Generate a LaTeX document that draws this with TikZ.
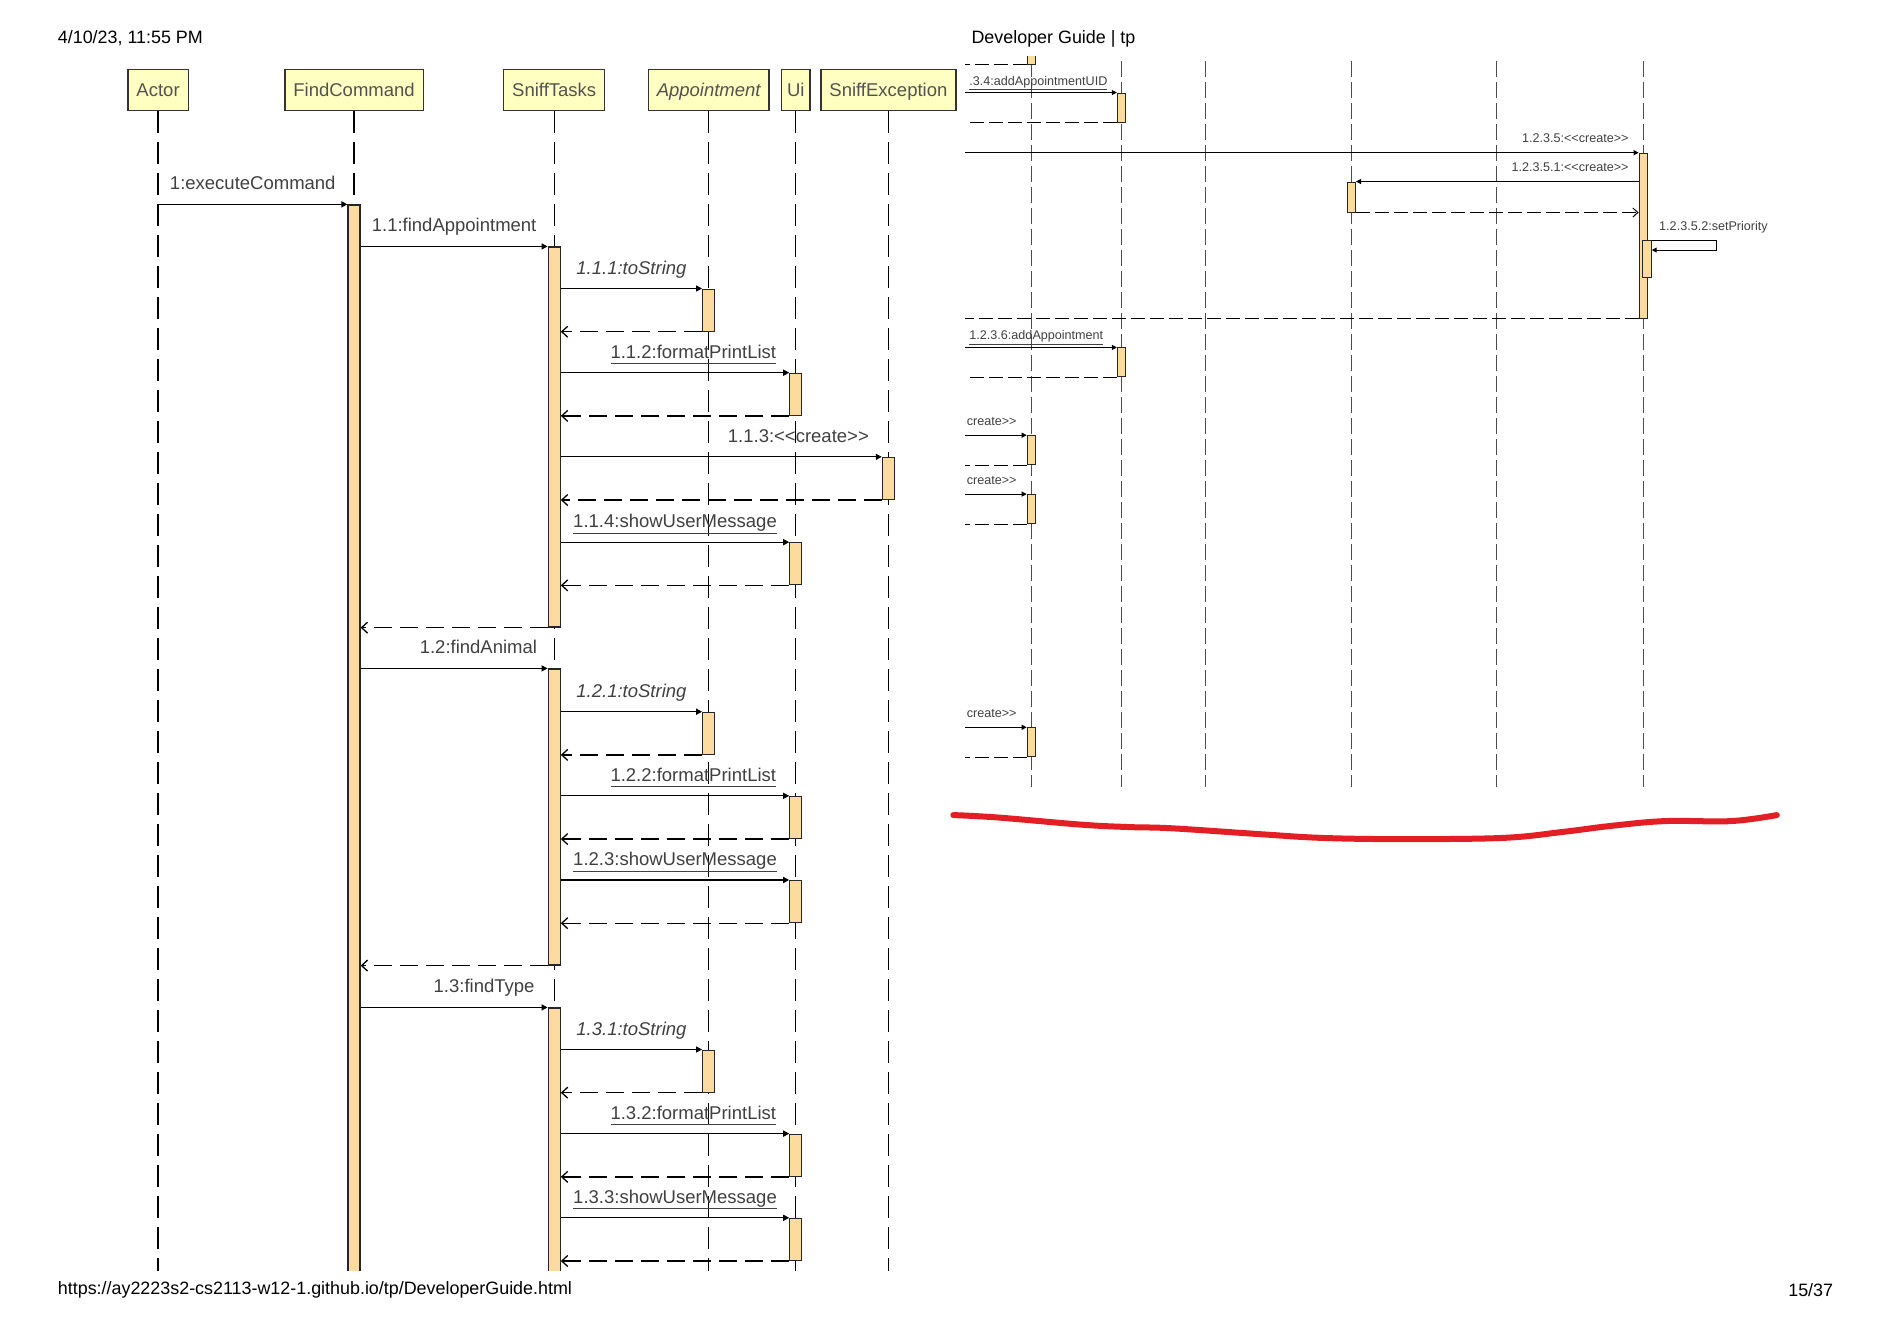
\documentclass[tikz,border=0pt]{standalone}
\usepackage{fontspec}
\setmainfont{Liberation Sans}
\usepackage{xcolor}
\usepackage{tikz}
\usetikzlibrary{arrows.meta}

\definecolor{headfill}{HTML}{FFFFC2}
\definecolor{barfill}{HTML}{FDDB9E}
\definecolor{penred}{HTML}{E31E24}
\newcommand{\dlt}{<\kern0pt<}
\newcommand{\dgt}{>\kern0pt>}
\newcommand{\ulbl}[1]{\underline{#1\vphantom{g}}}

\begin{document}
\begin{tikzpicture}[x=1.2022pt, y=-1.2022pt,
  head/.style={rectangle, draw=black!80, fill=headfill, line width=1.3pt, minimum height=41pt, inner xsep=8.5pt, text height=17pt, text depth=4pt, text=black!68, font=\fontsize{18.5pt}{20pt}\selectfont},
  bar/.style={rectangle, draw=black!85, fill=barfill, line width=1.2pt, minimum width=12pt, inner sep=0pt, anchor=north},
  rbar/.style={bar, minimum width=8.5pt, line width=1pt},
  life/.style={line width=1.3pt, dash pattern=on 22pt off 9pt},
  rlife/.style={line width=1pt, black!70, dash pattern=on 16pt off 5pt},
  msg/.style={line width=1.3pt, -{Triangle[length=6pt,width=6pt]}},
  ret/.style={line width=1.3pt, dash pattern=on 18pt off 8pt, -{Straight Barb[length=6pt,width=11pt]}},
  rmsg/.style={line width=1pt, -{Triangle[length=5pt,width=5pt]}},
  rret/.style={line width=1pt, dash pattern=on 14pt off 5pt, -{Straight Barb[length=5pt,width=9pt]}},
  lbl/.style={anchor=base, yshift=14.5pt, inner sep=0pt, text=black!75, font=\fontsize{18.5pt}{20pt}\selectfont},
  rlbl/.style={inner sep=0pt, text=black!75, font=\fontsize{12.6pt}{14pt}\selectfont},
  page/.style={inner sep=0pt, font=\fontsize{17.9pt}{20pt}\selectfont}]
\useasboundingbox (0,0) rectangle (1568,1098);

% page header and footer
\node (date) [page, anchor=west] at (48,32) {4/10/23, 11:55 PM};
\node (title) [page, anchor=west] at (808,32) {Developer Guide | tp};
\node (url) [page, anchor=west] at (48,1073) {https://ay2223s2-cs2113-w12-1.github.io/tp/DeveloperGuide.html};
\node (pageno) [page, anchor=east] at (1525,1073) {15/37};

% left column: find sequence
\begin{scope}
\clip (0,40) rectangle (800,1057);
\node (actor) [head] at (131.5,75) {Actor};
\node (find) [head] at (294.5,75) {FindCommand};
\node (tasks) [head] at (461,75) {SniffTasks};
\node (appt) [head] at (589.5,75) {\itshape Appointment};
\node (ui) [head, inner xsep=5.5pt] at (662,75) {Ui};
\node (except) [head] at (739,75) {SniffException};

\foreach \obj in {actor,find,tasks,appt,ui,except}
  \draw[life] (\obj.south) -- (\obj.south |- 0,1070);

\node (fbar) [bar, minimum height=1080pt] at (find.south |- 0,170) {};
\node (t1) [bar, minimum height=380pt] at (tasks.south |- 0,205) {};
\node (a1) [bar, minimum height=42pt] at (appt.south |- 0,240) {};
\node (u1) [bar, minimum height=42pt] at (ui.south |- 0,310) {};
\node (e1) [bar, minimum height=42pt] at (except.south |- 0,380) {};
\node (u2) [bar, minimum height=42pt] at (ui.south |- 0,451) {};
\node (t2) [bar, minimum height=296pt] at (tasks.south |- 0,556) {};
\node (a2) [bar, minimum height=42pt] at (appt.south |- 0,592) {};
\node (u3) [bar, minimum height=42pt] at (ui.south |- 0,662) {};
\node (u4) [bar, minimum height=42pt] at (ui.south |- 0,732) {};
\node (t3) [bar, minimum height=300pt] at (tasks.south |- 0,838) {};
\node (a3) [bar, minimum height=42pt] at (appt.south |- 0,873) {};
\node (u5) [bar, minimum height=42pt] at (ui.south |- 0,943) {};
\node (u6) [bar, minimum height=42pt] at (ui.south |- 0,1013) {};

\draw[msg] (actor.south |- fbar.north) -- (fbar.north west) node[lbl, midway] {1:executeCommand};

\draw[msg] (fbar.east |- t1.north) -- (t1.north west) node[lbl, midway] {1.1:findAppointment};
\draw[msg] (t1.east |- a1.north) -- (a1.north west) node[lbl, midway] {\itshape 1.1.1:toString};
\draw[ret] (a1.south west) -- (t1.east |- a1.south);
\draw[msg] (t1.east |- u1.north) -- (u1.north west) node[lbl, pos=0.58] {\ulbl{1.1.2:formatPrintList}};
\draw[ret] (u1.south west) -- (t1.east |- u1.south);
\draw[msg] (t1.east |- e1.north) -- (e1.north west) node[lbl, pos=0.74] {1.1.3:\dlt create\dgt};
\draw[ret] (e1.south west) -- (t1.east |- e1.south);
\draw[msg] (t1.east |- u2.north) -- (u2.north west) node[lbl, midway] {\ulbl{1.1.4:showUserMessage}};
\draw[ret] (u2.south west) -- (t1.east |- u2.south);
\draw[ret] (t1.south west) -- (fbar.east |- t1.south);

\draw[msg] (fbar.east |- t2.north) -- (t2.north west) node[lbl, pos=0.63] {1.2:findAnimal};
\draw[msg] (t2.east |- a2.north) -- (a2.north west) node[lbl, midway] {\itshape 1.2.1:toString};
\draw[ret] (a2.south west) -- (t2.east |- a2.south);
\draw[msg] (t2.east |- u3.north) -- (u3.north west) node[lbl, pos=0.58] {\ulbl{1.2.2:formatPrintList}};
\draw[ret] (u3.south west) -- (t2.east |- u3.south);
\draw[msg] (t2.east |- u4.north) -- (u4.north west) node[lbl, midway] {\ulbl{1.2.3:showUserMessage}};
\draw[ret] (u4.south west) -- (t2.east |- u4.south);
\draw[ret] (t2.south west) -- (fbar.east |- t2.south);

\draw[msg] (fbar.east |- t3.north) -- (t3.north west) node[lbl, pos=0.66] {1.3:findType};
\draw[msg] (t3.east |- a3.north) -- (a3.north west) node[lbl, midway] {\itshape 1.3.1:toString};
\draw[ret] (a3.south west) -- (t3.east |- a3.south);
\draw[msg] (t3.east |- u5.north) -- (u5.north west) node[lbl, pos=0.58] {\ulbl{1.3.2:formatPrintList}};
\draw[ret] (u5.south west) -- (t3.east |- u5.south);
\draw[msg] (t3.east |- u6.north) -- (u6.north west) node[lbl, midway] {\ulbl{1.3.3:showUserMessage}};
\draw[ret] (u6.south west) -- (t3.east |- u6.south);
\end{scope}

% right column: cut-off part of the add sequence
\begin{scope}
\clip (800,47) rectangle (1568,1098);
\foreach \lx in {858,933,1003,1124,1245,1367}
  \draw[rlife] (\lx,51) -- (\lx,655);
\coordinate (edge) at (803,0);

\node (r0) [rbar, minimum height=12pt] at (858,43) {};
\node (uid) [rbar, minimum height=29pt] at (933,77) {};
\node (pri) [rbar, minimum height=165pt] at (1367,127) {};
\node (mk) [rbar, minimum height=30pt] at (1124,151) {};
\node (setp) [rbar, minimum height=37pt] at (1370,200) {};
\node (addp) [rbar, minimum height=29pt] at (933,289) {};
\node (c1) [rbar, minimum height=29pt] at (858,362) {};
\node (c2) [rbar, minimum height=29pt] at (858,411) {};
\node (c3) [rbar, minimum height=29pt] at (858,605) {};

\draw[rret, -] (r0.south west) -- (edge |- r0.south);
\draw[rmsg] (edge |- uid.north) -- (uid.north west) node[rlbl, at start, anchor=base west, xshift=3.6pt, yshift=7.5pt] {\ulbl{.3.4:addAppointmentUID}};
\draw[rret, -] (uid.south west) -- (edge |- uid.south);

\draw[rmsg] (edge |- pri.north) -- (pri.north west) node[rlbl, at end, anchor=base east, xshift=-9.6pt, yshift=10pt] {1.2.3.5:\dlt create\dgt};
\draw[rmsg] (pri.west |- mk.north) -- (mk.north east) node[rlbl, at start, anchor=base east, xshift=-9.6pt, yshift=10pt] {1.2.3.5.1:\dlt create\dgt};
\draw[rret] (mk.south east) -- (pri.west |- mk.south);
\draw[rmsg] (setp.north east) node[rlbl, anchor=base west, xshift=7pt, yshift=10pt] {1.2.3.5.2:setPriority} -- ++(54,0) |- ([yshift=-9.6pt]setp.north east);
\draw[rret, -] (pri.south west) -- (edge |- pri.south);

\draw[rmsg] (edge |- addp.north) -- (addp.north west) node[rlbl, at start, anchor=base west, xshift=3.6pt, yshift=7.5pt] {\ulbl{1.2.3.6:addAppointment}};
\draw[rret, -] (addp.south west) -- (edge |- addp.south);

\draw[rmsg] (edge |- c1.north) -- (c1.north west) node[rlbl, at start, anchor=base west, xshift=1pt, yshift=10pt] {create\dgt};
\draw[rret, -] (c1.south west) -- (edge |- c1.south);
\draw[rmsg] (edge |- c2.north) -- (c2.north west) node[rlbl, at start, anchor=base west, xshift=1pt, yshift=10pt] {create\dgt};
\draw[rret, -] (c2.south west) -- (edge |- c2.south);
\draw[rmsg] (edge |- c3.north) -- (c3.north west) node[rlbl, at start, anchor=base west, xshift=1pt, yshift=10pt] {create\dgt};
\draw[rret, -] (c3.south west) -- (edge |- c3.south);
\end{scope}

% red pen stroke
\draw[penred, line width=6pt, line cap=round] plot[smooth, tension=0.6] coordinates {(793,678) (830,680) (900,686) (940,688) (975,689) (1050,694) (1100,697) (1165,698) (1250,697) (1300,692) (1340,687) (1385,683) (1440,683) (1478,678)};
\end{tikzpicture}
\end{document}
